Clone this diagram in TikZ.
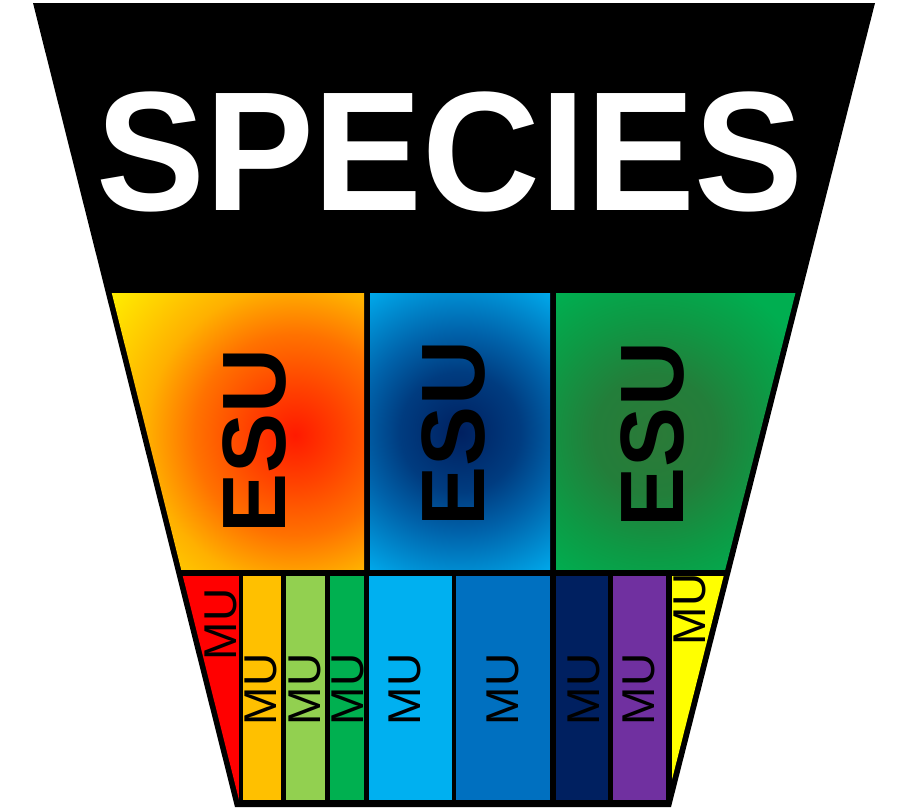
\documentclass[tikz,border=0pt]{standalone}
\usepackage{fontspec}
\setsansfont{Liberation Sans}
\usepackage{xcolor}
\usepackage{tikz}

\definecolor{mured}{HTML}{FF0000}
\definecolor{muorange}{HTML}{FFC000}
\definecolor{mulightgreen}{HTML}{92D050}
\definecolor{mugreen}{HTML}{00B050}
\definecolor{mulightblue}{HTML}{00B0F0}
\definecolor{mublue}{HTML}{0070C0}
\definecolor{munavy}{HTML}{002060}
\definecolor{mupurple}{HTML}{7030A0}
\definecolor{muyellow}{HTML}{FFFF00}

\definecolor{firea}{HTML}{FF1A00}
\definecolor{fireb}{HTML}{FF4200}
\definecolor{firec}{HTML}{FF7200}
\definecolor{fired}{HTML}{FFB000}
\definecolor{firee}{HTML}{FFC800}
\definecolor{firef}{HTML}{FFF000}
\definecolor{seaa}{HTML}{002060}
\definecolor{seab}{HTML}{003C80}
\definecolor{seac}{HTML}{0062AA}
\definecolor{sead}{HTML}{00A8EA}
\definecolor{seae}{HTML}{00B4F4}
\definecolor{foresta}{HTML}{2B7A38}
\definecolor{forestb}{HTML}{237E3A}
\definecolor{forestc}{HTML}{0D9A45}
\definecolor{forestd}{HTML}{00AE50}
\definecolor{foreste}{HTML}{00B050}

\pgfdeclareradialshading{esufire}{\pgfpointorigin}{color(0bp)=(firea); color(5bp)=(fireb); color(10.5bp)=(firec); color(15.5bp)=(fired); color(18.8bp)=(firee); color(24.5bp)=(firef); color(50bp)=(firef)}
\pgfdeclareradialshading{esusea}{\pgfpointorigin}{color(0bp)=(seaa); color(7.5bp)=(seab); color(12.5bp)=(seac); color(20.6bp)=(sead); color(25bp)=(seae); color(50bp)=(seae)}
\pgfdeclareradialshading{esuforest}{\pgfpointorigin}{color(0bp)=(foresta); color(6bp)=(forestb); color(12bp)=(forestc); color(17bp)=(forestd); color(25bp)=(foreste); color(50bp)=(foreste)}

\begin{document}
\begin{tikzpicture}[
    x = 1pt,
    y = -1pt,
    font = \sffamily,
    specieslabel/.style = {
      anchor=base,
      text=white,
      inner sep=0pt,
      xscale=0.96,
      font=\sffamily\bfseries\fontsize{170}{170}\selectfont
    },
    esulabel/.style = {
      rotate=90,
      inner sep=0pt,
      font=\sffamily\bfseries\fontsize{90}{90}\selectfont
    },
    mulabel/.style = {
      rotate=90,
      inner sep=0pt,
      font=\sffamily\fontsize{46}{46}\selectfont
    }
  ]
    \useasboundingbox (0,0) rectangle (900,809);

    \fill[black] (33,3) -- (875,3) -- (671,807) -- (235,807) -- cycle;

    \begin{scope}
      \clip (38.2,0) -- (869.8,0) -- (664.5,809) -- (241.3,809) -- cycle;

      \begin{scope}
        \clip (0,293) rectangle (364,569);
        \shade[shading=esufire] (295,435) circle (240);
      \end{scope}
      \begin{scope}
        \clip (370,293) rectangle (550,569);
        \shade[shading=esusea] (460,432) circle (200);
      \end{scope}
      \begin{scope}
        \clip (556,293) rectangle (900,569);
        \shade[shading=esuforest] (655,435) circle (250);
      \end{scope}

      \fill[mured] (0,576) rectangle (239,800);
      \fill[muorange] (243,576) rectangle (281,800);
      \fill[mulightgreen] (286,576) rectangle (325,800);
      \fill[mugreen] (330,576) rectangle (364,800);
      \fill[mulightblue] (369,576) rectangle (452,800);
      \fill[mublue] (456,576) rectangle (550,800);
      \fill[munavy] (556,576) rectangle (608,800);
      \fill[mupurple] (613,576) rectangle (666,800);
      \fill[muyellow] (672,576) rectangle (900,800);
    \end{scope}

    \node[specieslabel] (species) at (450,210) {SPECIES};

    \node[esulabel] (esua) at (255,441) {ESU};
    \node[esulabel] (esub) at (453.5,433.5) {ESU};
    \node[esulabel] (esuc) at (652.5,434.5) {ESU};

    \node[mulabel] (mua) at (221,624.5) {MU};
    \node[mulabel] (mub) at (260.5,689.5) {MU};
    \node[mulabel] (muc) at (305,689.5) {MU};
    \node[mulabel] (mud) at (347.5,689.5) {MU};
    \node[mulabel] (mue) at (405,689.5) {MU};
    \node[mulabel] (muf) at (502.5,689.5) {MU};
    \node[mulabel] (mug) at (584,689.5) {MU};
    \node[mulabel] (muh) at (639,689.5) {MU};
    \node[mulabel] (mui) at (690,609.5) {MU};

  \end{tikzpicture}
\end{document}
